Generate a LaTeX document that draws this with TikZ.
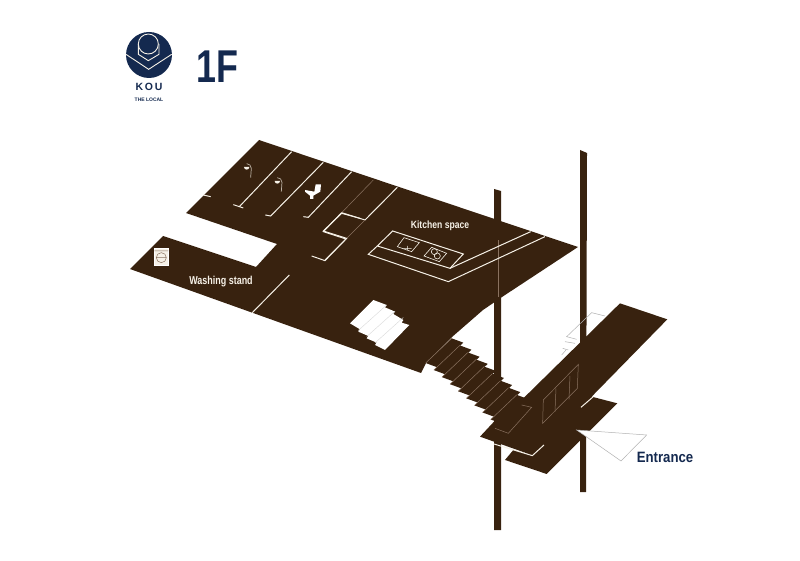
\documentclass[tikz,border=0pt]{standalone}
\usepackage{fontspec}
\setmainfont{Liberation Sans}
\definecolor{floorbrown}{HTML}{38220F}
\definecolor{palecream}{HTML}{F6F1E7}
\definecolor{dimline}{HTML}{8A7260}
\definecolor{navy}{HTML}{14294F}
\tikzset{
  x=1pt,y=-1pt,
  z1/.style={shift={(110,20)},scale=.3333},
  z2/.style={shift={(120,130)},scale=.3333},
  z3/.style={shift={(320,170)},scale=.3333},
  z4/.style={shift={(420,300)},scale=.3333},
  slab/.style={fill=floorbrown,draw=none},
  wall/.style={draw=palecream,line width=1pt},
  thinwall/.style={draw=palecream,line width=.6pt},
  dimwall/.style={draw=dimline,line width=.5pt},
  greyedge/.style={draw=black!30,line width=.5pt},
  floortext/.style={text=palecream,inner sep=0pt,transform shape},
  navytext/.style={text=navy,inner sep=0pt,transform shape}
}
\begin{document}
\begin{tikzpicture}
  \useasboundingbox (0,0) rectangle (800,561);
  % posts
  \fill[floorbrown] (494,189) -- (501,191) -- (501,530) -- (494,530) -- cycle;
  \fill[floorbrown] (580,150) -- (587,153) -- (586,492) -- (580,492) -- cycle;
  % main floor
  \fill[slab] (259,140) -- (578,247) -- (502,297) -- (483,310) -- (452,337) -- (426,363)
    -- (421,373) -- (130,269) -- (163,236) -- (256,267) -- (277,244) -- (186,213) -- cycle;
  \draw[dimwall] (498,297) -- (498,240);
  % stairs down
  \begin{scope}[z4]
    \foreach \i in {0,...,8}{
      \fill[slab] ({95+24.4*\i},{115+21.2*\i}) -- ++(35,13) -- ++(-78,74) -- ++(-35,-13) -- cycle;
      \draw[dimwall] ({95+24.4*\i},{115+21.2*\i}) -- ++(-78,74);
    }
    % walkway and landing
    \fill[slab] (222,365) -- (310,295) -- (600,10) -- (742,58) -- (515,290) -- (592,310)
      -- (380,522) -- (255,480) -- (280,450) -- (340,467) -- (180,410) -- cycle;
    \draw[wall] (222,432) -- (337,467) -- (372,435);
    \draw[wall] (483,322) -- (520,290);
    \draw[dimwall] (370,300) -- (475,193) -- (472,265) -- (368,370) -- cycle;
    \draw[dimwall] (408,265) -- (405,335) (450,228) -- (447,298);
    \draw[dimwall] (305,315) -- (335,322) -- (265,400) -- (225,385);
    % stairs behind the walkway
    \draw[greyedge] (555,48) -- (515,38) -- (440,110) -- (470,118);
    \draw[greyedge] (435,125) -- (465,130) (428,145) -- (445,150) (425,165) -- (438,150);
    % entrance marker
    \draw[greyedge,fill=white] (470,390) -- (680,405) -- (603,483) -- cycle;
  \end{scope}
  % upper flight
  \begin{scope}[z3]
    \fill[white] (160,390) -- (200,405) -- (195,412) -- (225,425) -- (220,432) -- (250,450)
      -- (245,458) -- (268,465) -- (195,540) -- (165,525) -- (170,518) -- (140,505) -- (145,498)
      -- (115,485) -- (120,478) -- (90,460) -- cycle;
    \foreach \a/\b in {200/115,225/140,250/165}
      \draw[black!15,line width=.4pt] (\a,{\a*.75+255}) -- (\b,{\b*.75+395});
    % kitchen counter
    \draw[wall] (218,183) -- (430,252) -- (390,295) -- (172,228) -- cycle;
    \draw[wall] (172,228) -- (145,253) -- (385,335) -- (675,200);
    \draw[wall] (390,295) -- (632,185);
    \draw[thinwall] (252,203) -- (298,218) -- (275,245) -- (232,230) -- cycle;
    \draw[thinwall] (335,232) -- (380,250) -- (358,275) -- (312,258) -- cycle;
    \draw[thinwall] (343,245) circle (9) (352,258) circle (9) (263,228) -- (263,240) (250,235) -- (275,235);
    % storage rooms
    \draw[wall] (232,52) -- (135,150) -- (65,128) -- (10,185) -- (78,207) -- (15,270);
    \draw[dimwall] (160,30) -- (65,128) (135,150) -- (78,207);
  \end{scope}
  % bath side
  \begin{scope}[z2]
    \draw[wall] (515,65) -- (358,230) (340,224) -- (370,234);
    \draw[wall] (610,97) -- (452,258) -- (436,255);
    \draw[wall] (695,125) -- (565,262) -- (550,260);
    \draw[wall] (250,195) -- (272,200);
    \draw[wall] (508,435) -- (397,548);
    \draw[wall] (575,378) -- (615,392) -- (680,325) -- (610,303) -- (665,250) -- (720,265);
    % showers
    \foreach \hx/\hy in {380/108,472/150}{
      \fill[palecream] (\hx-8,\hy+3) arc (180:0:8) -- cycle;
      \draw[draw=palecream!70!floorbrown,line width=.7pt] (\hx,\hy-7) to[out=0,in=90] ++(14,14) -- ++(-2,28);
    }
  \end{scope}
  % toilet
  \fill[white,shift={(295,175)},scale=.3333] (30,45) -- (58,50) -- (62,28) -- (78,28) -- (76,50) -- (55,62)
    -- (55,72) -- (45,72) -- (45,62) -- (30,50) -- cycle;
  % washer
  \begin{scope}[z2]
    \draw[fill=palecream,draw=white,line width=.5pt] (103,355) rectangle (145,405);
    \draw[dimwall] (103,363) -- (145,363) (124,383) circle (15) (110,383) -- (138,383);
  \end{scope}
  % logo
  \begin{scope}[z1]
    \fill[navy] (117,105) circle (69);
    \draw[palecream,line width=.9pt] (115,72) circle (30);
    \draw[palecream,line width=.9pt] (85,72) -- (85,103) -- (115,122) -- (147,103) -- (147,72);
    \draw[palecream,line width=.9pt] (48,103) -- (116,148) -- (185,103);
  \end{scope}
  \node[navytext,font=\bfseries\fontsize{10.5}{10.5}\selectfont] (koutext) at (149,87) {K\,O\,U};
  \node[navytext,font=\bfseries\fontsize{5}{5}\selectfont] (localtext) at (149,100) {THE LOCAL};
  \node[navytext,font=\bfseries\fontsize{46}{46}\selectfont,xscale=.78] (floortitle) at (217,67) {1F};
  % labels
  \node[floortext,font=\bfseries\fontsize{11.5}{11.5}\selectfont,xscale=.78] (washlabel) at (221,282) {Washing stand};
  \node[floortext,font=\bfseries\fontsize{10.5}{10.5}\selectfont,xscale=.82] (kitchenlabel) at (440,226) {Kitchen space};
  \node[navytext,font=\bfseries\fontsize{15}{15}\selectfont,xscale=.88] (entrancelabel) at (665,457) {Entrance};
\end{tikzpicture}
\end{document}
